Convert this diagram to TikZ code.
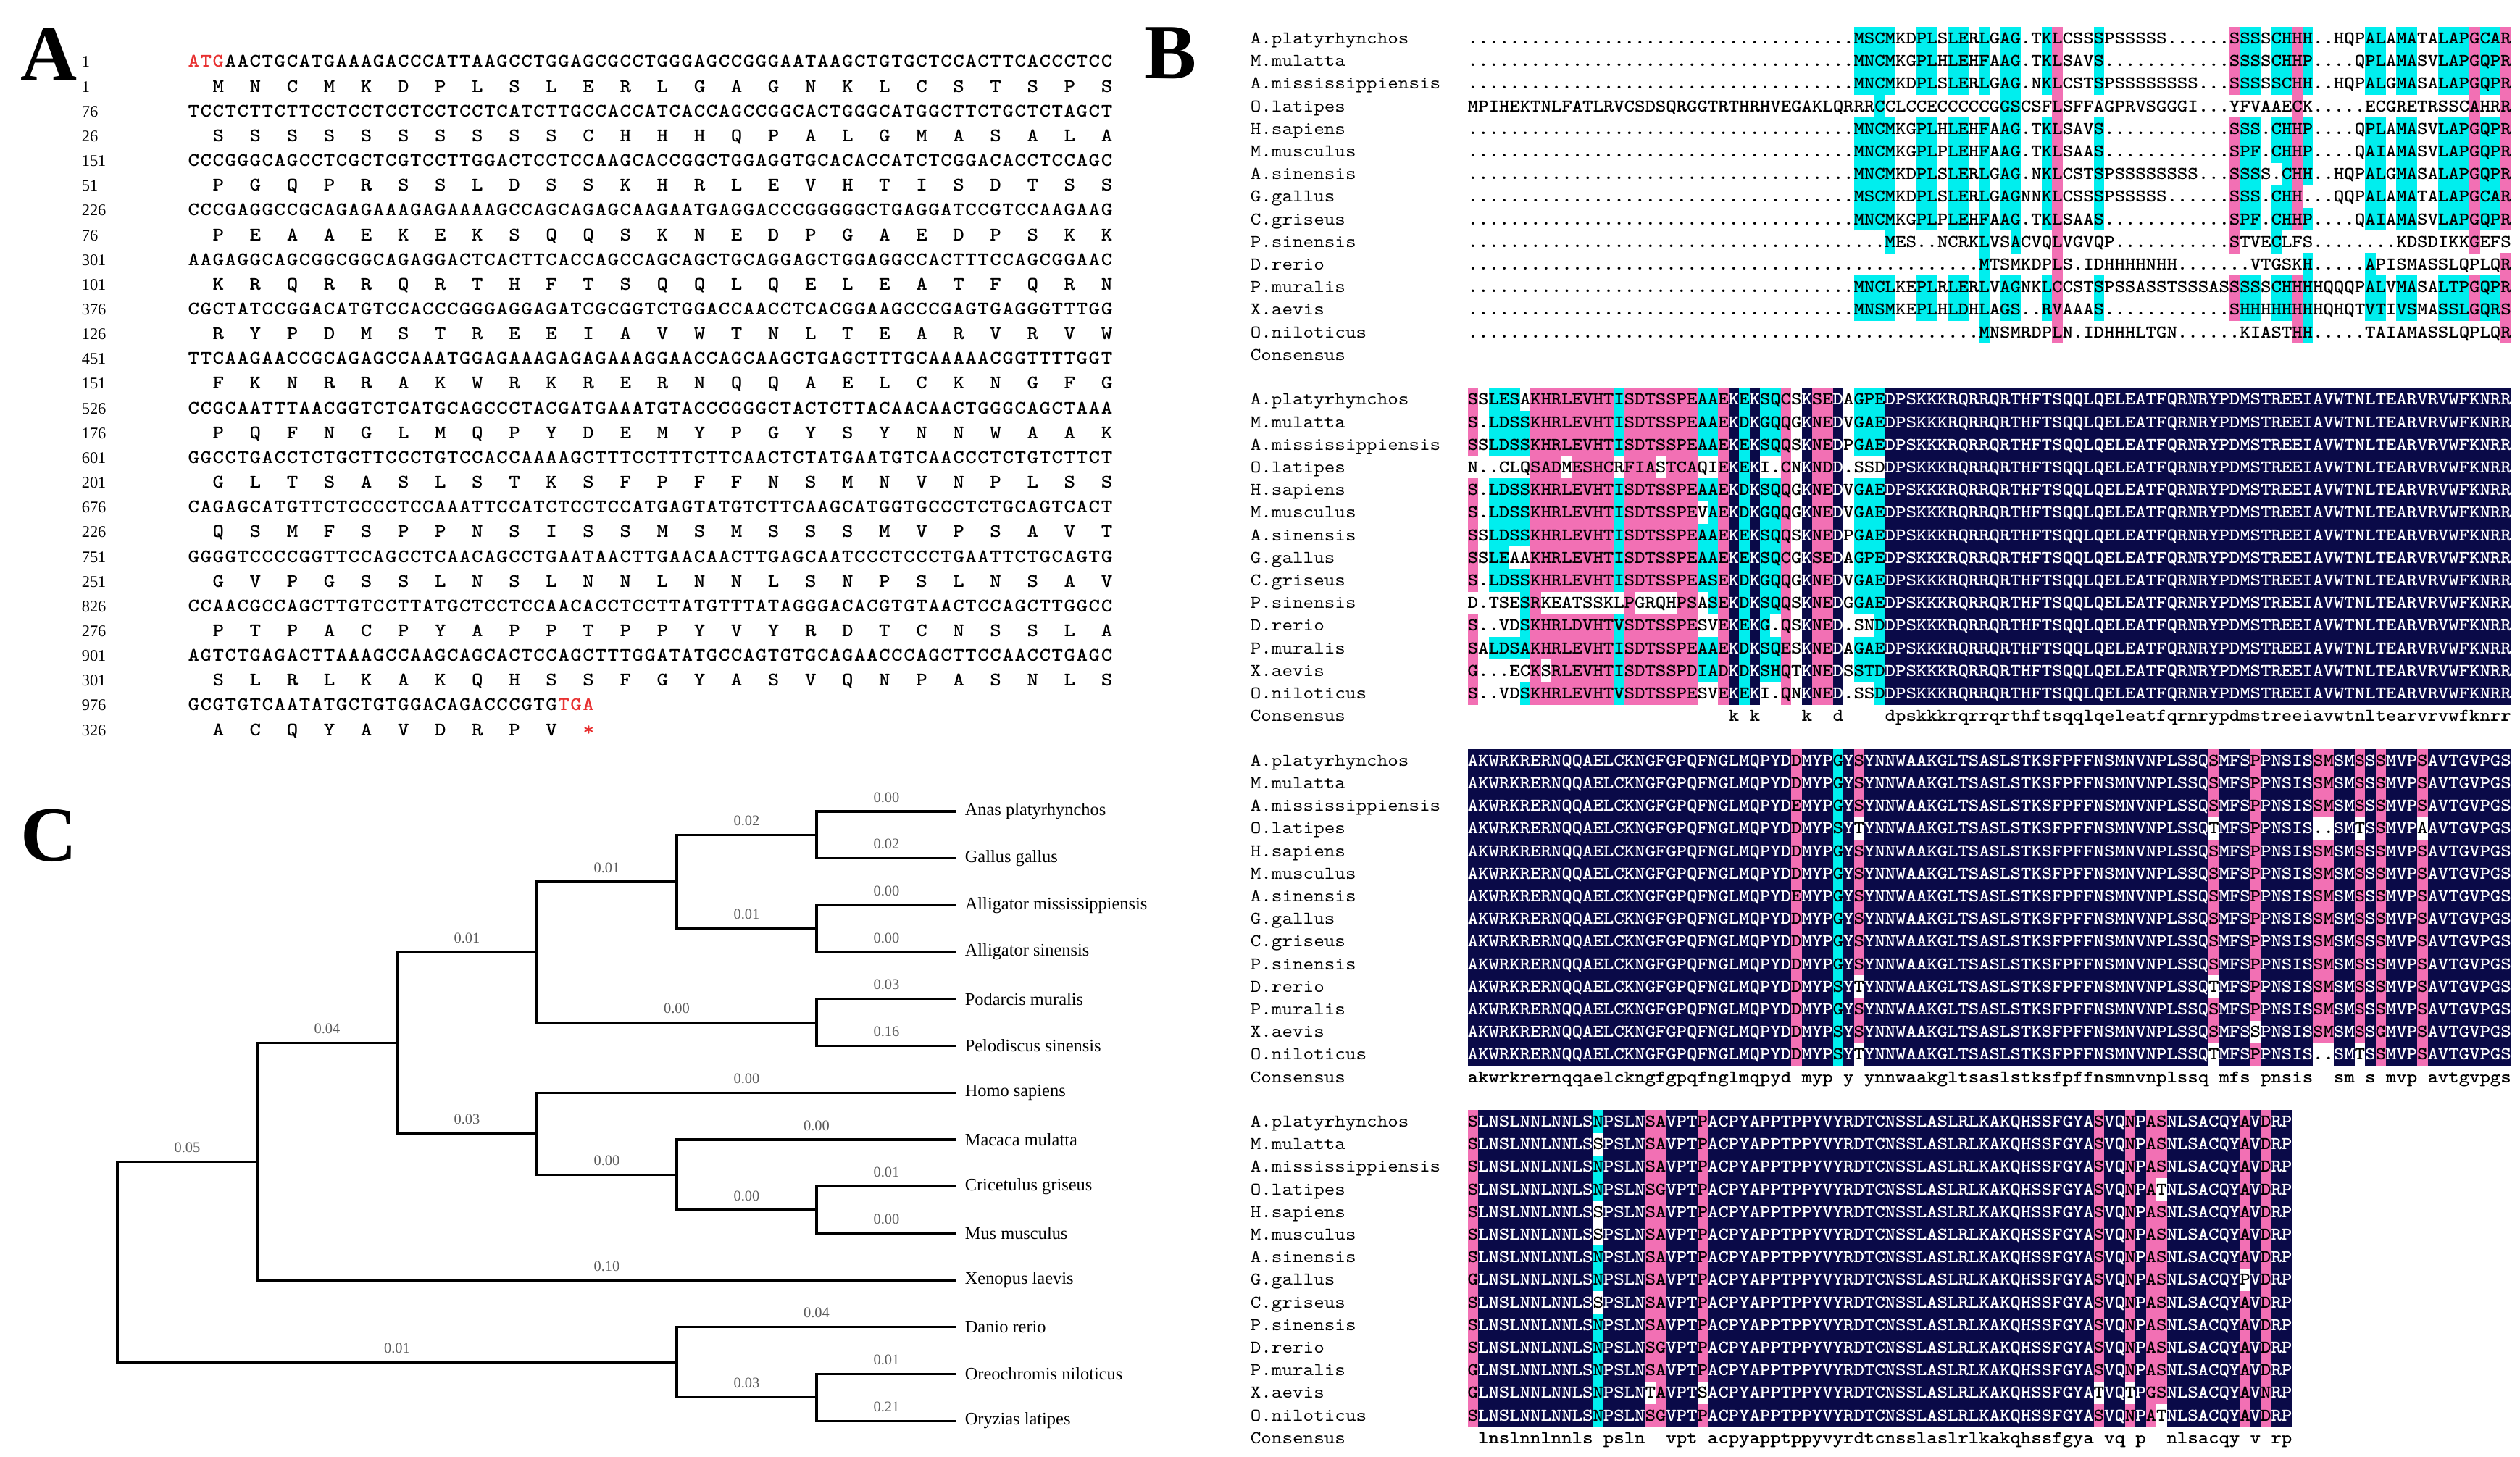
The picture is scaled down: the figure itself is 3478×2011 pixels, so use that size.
\documentclass[tikz,border=0pt]{standalone}
\usepackage{fontspec}
\setmainfont{Liberation Serif}
\newfontfamily\seqfont{lmmono10-regular.otf}[FakeStretch=1.12]
\newfontfamily\seqbold{lmmonolt10-bold.otf}[FakeStretch=1.12]

\definecolor{alnavy}{RGB}{10,10,72}
\definecolor{alpink}{RGB}{242,112,180}
\definecolor{alcyan}{RGB}{0,238,238}
\definecolor{seqred}{RGB}{232,48,48}
\definecolor{blabgray}{RGB}{90,90,90}

\newlength\cw
\newlength\chh
\newlength\chd

\ExplSyntaxOn
\cs_new:Npn \rpt #1#2 { \prg_replicate:nn {#1} {#2} }
\ExplSyntaxOff

\def\dropone#1{}
\def\keepone#1{#1}

% one residue: code (n, p, c or .) and letter
\newcommand\cellbox[2]{%
  \hbox to \cw{%
    \if.#2\else\if_#2\else
      \if n#1\rlap{\color{alnavy}\vrule width\cw height\chh depth\chd}\color{white}\fi
      \if p#1\rlap{\color{alpink}\vrule width\cw height\chh depth\chd}\fi
      \if c#1\rlap{\color{alcyan}\vrule width\cw height\chh depth\chd}\fi
    \fi\fi
    \hss\if_#2\else#2\fi\hss}}

% a row of residues: letters, codes
\newcommand\cellrow[2]{%
  \edef\rowlet{#1}\edef\rowcod{#2\rpt{100}{.}}%
  \edef\next{\noexpand\cellstep\rowlet\noexpand\relax\rowcod\noexpand\relax}\next}
\def\cellstep#1#2\relax#3#4\relax{%
  \cellbox{#3}{#1}%
  \ifx\relax#2\relax\expandafter\dropone\else\expandafter\keepone\fi
  {\cellstep#2\relax#4\relax}}

% amino acids, each over the third base of its codon
\newcommand\aarow[1]{\aastep#1\relax}
\def\aastep#1#2\relax{%
  \hbox to 3\cw{\hss\hbox to\cw{\hss#1\hss}}%
  \ifx\relax#2\relax\expandafter\dropone\else\expandafter\keepone\fi
  {\aastep#2\relax}}

% alignment pieces
\def\codeone{\rpt{37}{.}cccc..cc.cc.c.cc..cp...c\rpt{12}{.}pcc.ccpc\rpt{5}{.}cc.cc..cccpccp}
\def\codetwo{p.cccc\rpt{8}{p}c\rpt{7}{p}ccpncnccp.nppn.ccc\rpt{60}{n}}
\def\codethree{\rpt{31}{n}p\rpt{3}{n}cnp\rpt{33}{n}p\rpt{3}{n}p\rpt{5}{n}ppnnpnp\rpt{3}{n}p\rpt{8}{n}}
\def\codefour{p\rpt{11}{n}c\rpt{4}{n}ppnnnp\rpt{37}{n}pnnpnpp\rpt{7}{n}pnpnn}
\def\codefourS{p\rpt{11}{n}.\rpt{4}{n}ppnnnp\rpt{37}{n}pnnpnpp\rpt{7}{n}pnpnn}
\def\tailtwo{DPSKKKRQRRQRTHFTSQQLQELEATFQRNRYPDMSTREEIAVWTNLTEARVRVWFKNRR}
\def\headthree{AKWRKRERNQQAELCKNGFGPQFNGLMQPYD}
\def\midthree{YNNWAAKGLTSASLSTKSFPFFNSMNVNPLSSQ}
\def\midfour{ACPYAPPTPPYVYRDTCNSSLASLRLKAKQHSSFGYA}

\begin{document}
\begin{tikzpicture}
	[
	x=0.25pt, y=-0.25pt,
	panel/.style={inner sep=0pt, font=\fontsize{27}{27}\selectfont\bfseries},
	anum/.style={anchor=base west, inner sep=0pt, font=\fontsize{5.6}{6}\selectfont},
	aseq/.style={anchor=base west, inner sep=0pt, font={\seqbold\fontsize{6.6}{7}\selectfont\cw=4.2575pt\relax}},
	bseq/.style={anchor=base west, inner sep=0pt, font={\seqbold\fontsize{6.2}{7}\selectfont\cw=3.6pt\chh=5.85pt\chd=2.05pt\relax}},
	bname/.style={anchor=base west, inner sep=0pt, font={\seqfont\fontsize{6.2}{7}\selectfont}},
	branch/.style={line width=0.8pt},
	blab/.style={anchor=south, inner sep=0pt, yshift=2.75pt, text=blabgray, font=\fontsize{5.1}{6}\selectfont},
	leaf/.style={anchor=west, inner xsep=2.75pt, inner ysep=0pt, font=\fontsize{6.1}{7}\selectfont},
	]
	\useasboundingbox (0,0) rectangle (3478,2011);

	% panel A: coding sequence and translation
	\node[panel] (la) at (67,75) {A};
	\foreach \n [count=\i from 0] in {1,1,76,26,151,51,226,76,301,101,376,126,451,151,526,176,601,201,676,226,751,251,826,276,901,301,976,326}
		\node[anum] (num\i) at (112,{93+34.15*\i}) {\n};

	\node[aseq] (nt1) at (258,93) {\textcolor{seqred}{\cellrow{ATG}{}}\cellrow{AACTGCATGAAAGACCCATTAAGCCTGGAGCGCCTGGGAGCCGGGAATAAGCTGTGCTCCACTTCACCCTCC}{}};
	\node[aseq] (aa1) at (258,{93+34.15*1}) {\aarow{MNCMKDPLSLERLGAGNKLCSTSPS}};
	\node[aseq] (nt76) at (258,{93+34.15*2}) {\cellrow{TCCTCTTCTTCCTCCTCCTCCTCCTCATCTTGCCACCATCACCAGCCGGCACTGGGCATGGCTTCTGCTCTAGCT}{}};
	\node[aseq] (aa26) at (258,{93+34.15*3}) {\aarow{SSSSSSSSSSCHHHQPALGMASALA}};
	\node[aseq] (nt151) at (258,{93+34.15*4}) {\cellrow{CCCGGGCAGCCTCGCTCGTCCTTGGACTCCTCCAAGCACCGGCTGGAGGTGCACACCATCTCGGACACCTCCAGC}{}};
	\node[aseq] (aa51) at (258,{93+34.15*5}) {\aarow{PGQPRSSLDSSKHRLEVHTISDTSS}};
	\node[aseq] (nt226) at (258,{93+34.15*6}) {\cellrow{CCCGAGGCCGCAGAGAAAGAGAAAAGCCAGCAGAGCAAGAATGAGGACCCGGGGGCTGAGGATCCGTCCAAGAAG}{}};
	\node[aseq] (aa76) at (258,{93+34.15*7}) {\aarow{PEAAEKEKSQQSKNEDPGAEDPSKK}};
	\node[aseq] (nt301) at (258,{93+34.15*8}) {\cellrow{AAGAGGCAGCGGCGGCAGAGGACTCACTTCACCAGCCAGCAGCTGCAGGAGCTGGAGGCCACTTTCCAGCGGAAC}{}};
	\node[aseq] (aa101) at (258,{93+34.15*9}) {\aarow{KRQRRQRTHFTSQQLQELEATFQRN}};
	\node[aseq] (nt376) at (258,{93+34.15*10}) {\cellrow{CGCTATCCGGACATGTCCACCCGGGAGGAGATCGCGGTCTGGACCAACCTCACGGAAGCCCGAGTGAGGGTTTGG}{}};
	\node[aseq] (aa126) at (258,{93+34.15*11}) {\aarow{RYPDMSTREEIAVWTNLTEARVRVW}};
	\node[aseq] (nt451) at (258,{93+34.15*12}) {\cellrow{TTCAAGAACCGCAGAGCCAAATGGAGAAAGAGAGAAAGGAACCAGCAAGCTGAGCTTTGCAAAAACGGTTTTGGT}{}};
	\node[aseq] (aa151) at (258,{93+34.15*13}) {\aarow{FKNRRAKWRKRERNQQAELCKNGFG}};
	\node[aseq] (nt526) at (258,{93+34.15*14}) {\cellrow{CCGCAATTTAACGGTCTCATGCAGCCCTACGATGAAATGTACCCGGGCTACTCTTACAACAACTGGGCAGCTAAA}{}};
	\node[aseq] (aa176) at (258,{93+34.15*15}) {\aarow{PQFNGLMQPYDEMYPGYSYNNWAAK}};
	\node[aseq] (nt601) at (258,{93+34.15*16}) {\cellrow{GGCCTGACCTCTGCTTCCCTGTCCACCAAAAGCTTTCCTTTCTTCAACTCTATGAATGTCAACCCTCTGTCTTCT}{}};
	\node[aseq] (aa201) at (258,{93+34.15*17}) {\aarow{GLTSASLSTKSFPFFNSMNVNPLSS}};
	\node[aseq] (nt676) at (258,{93+34.15*18}) {\cellrow{CAGAGCATGTTCTCCCCTCCAAATTCCATCTCCTCCATGAGTATGTCTTCAAGCATGGTGCCCTCTGCAGTCACT}{}};
	\node[aseq] (aa226) at (258,{93+34.15*19}) {\aarow{QSMFSPPNSISSMSMSSSMVPSAVT}};
	\node[aseq] (nt751) at (258,{93+34.15*20}) {\cellrow{GGGGTCCCCGGTTCCAGCCTCAACAGCCTGAATAACTTGAACAACTTGAGCAATCCCTCCCTGAATTCTGCAGTG}{}};
	\node[aseq] (aa251) at (258,{93+34.15*21}) {\aarow{GVPGSSLNSLNNLNNLSNPSLNSAV}};
	\node[aseq] (nt826) at (258,{93+34.15*22}) {\cellrow{CCAACGCCAGCTTGTCCTTATGCTCCTCCAACACCTCCTTATGTTTATAGGGACACGTGTAACTCCAGCTTGGCC}{}};
	\node[aseq] (aa276) at (258,{93+34.15*23}) {\aarow{PTPACPYAPPTPPYVYRDTCNSSLA}};
	\node[aseq] (nt901) at (258,{93+34.15*24}) {\cellrow{AGTCTGAGACTTAAAGCCAAGCAGCACTCCAGCTTTGGATATGCCAGTGTGCAGAACCCAGCTTCCAACCTGAGC}{}};
	\node[aseq] (aa301) at (258,{93+34.15*25}) {\aarow{SLRLKAKQHSSFGYASVQNPASNLS}};
	\node[aseq] (nt976) at (258,{93+34.15*26}) {\cellrow{GCGTGTCAATATGCTGTGGACAGACCCGTG}{}\textcolor{seqred}{\cellrow{TGA}{}}};
	\node[aseq] (aa326) at (258,{93+34.15*27}) {\aarow{ACQYAVDRPV}\textcolor{seqred}{\aarow{*}}};

	% panel B: alignment in four blocks
	\node[panel] (lb) at (1615,73) {B};
	\foreach \blk in {0,...,3}
		\foreach \nm [count=\i from 0] in {A.platyrhynchos,M.mulatta,A.mississippiensis,O.latipes,H.sapiens,M.musculus,A.sinensis,G.gallus,C.griseus,P.sinensis,D.rerio,P.muralis,X.aevis,O.niloticus,Consensus}
			\node[bname] (sp\blk-\i) at (1725,{60.6+498.3*\blk+31.2*\i}) {\nm};

	% block 1
	\node[bseq] (b1r1) at (2025,60.6) {\cellrow{\rpt{37}{.}MSCMKDPLSLERLGAG.TKLCSSSPSSSSS\rpt{6}{.}SSSSCHHH..HQPALAMATALAPGCAR}{\codeone}};
	\node[bseq] (b1r2) at (2025,91.8) {\cellrow{\rpt{37}{.}MNCMKGPLHLEHFAAG.TKLSAVS\rpt{12}{.}SSSSCHHP....QPLAMASVLAPGQPR}{\codeone}};
	\node[bseq] (b1r3) at (2025,123.0) {\cellrow{\rpt{37}{.}MNCMKDPLSLERLGAG.NKLCSTSP\rpt{8}{S}...SSSSSCHH..HQPALGMASALAPGQPR}{\codeone}};
	\node[bseq] (b1r4) at (2025,154.2) {\cellrow{MPIHEKTNLFATLRVCSDSQRGGTRTHRHVEGAKLQRRRCCLCCECCCCCGGSCSFLSFFAGPRVSGGGI...YFVAAECK.....ECGRETRSSCAHRR}{\rpt{39}{.}c\rpt{11}{.}cc...p\rpt{22}{.}p\rpt{16}{.}p..p}};
	\node[bseq] (b1r5) at (2025,185.4) {\cellrow{\rpt{37}{.}MNCMKGPLHLEHFAAG.TKLSAVS\rpt{12}{.}SSS.CHHP....QPLAMASVLAPGQPR}{\codeone}};
	\node[bseq] (b1r6) at (2025,216.6) {\cellrow{\rpt{37}{.}MNCMKGPLPLEHFAAG.TKLSAAS\rpt{12}{.}SPF.CHHP....QAIAMASVLAPGQPR}{\codeone}};
	\node[bseq] (b1r7) at (2025,247.8) {\cellrow{\rpt{37}{.}MNCMKDPLSLERLGAG.NKLCSTSP\rpt{8}{S}...SSSS.CHH..HQPALGMASALAPGQPR}{\codeone}};
	\node[bseq] (b1r8) at (2025,279.0) {\cellrow{\rpt{37}{.}MSCMKDPLSLERLGAGNNKLCSSSPSSSSS\rpt{6}{.}SSS.CHH...QQPALAMATALAPGCAR}{\codeone}};
	\node[bseq] (b1r9) at (2025,310.2) {\cellrow{\rpt{37}{.}MNCMKGPLPLEHFAAG.TKLSAAS\rpt{12}{.}SPF.CHHP....QAIAMASVLAPGQPR}{\codeone}};
	\node[bseq] (b1r10) at (2025,341.4) {\cellrow{\rpt{40}{.}MES..NCRKLVSACVQLVGVQP\rpt{11}{.}STVECLFS\rpt{8}{.}KDSDIKKGEFS}{\rpt{40}{.}c\rpt{8}{.}c..c...p\rpt{16}{.}p...c\rpt{18}{.}p...}};
	\node[bseq] (b1r11) at (2025,372.6) {\cellrow{\rpt{49}{.}MTSMKDPLS.IDHHHHNHH\rpt{7}{.}VTGSKH\rpt{5}{.}APISMASSLQPLQR}{\rpt{49}{.}c\rpt{6}{.}p\rpt{23}{.}c\rpt{5}{.}c\rpt{12}{.}p}};
	\node[bseq] (b1r12) at (2025,403.8) {\cellrow{\rpt{37}{.}MNCLKEPLRLERLVAGNKLCCSTSPSSASSTSSSASSSSSCHHHHQQQPALVMASALTPGQPR}{\codeone}};
	\node[bseq] (b1r13) at (2025,435.0) {\cellrow{\rpt{37}{.}MNSMKEPLHLDHLAGS..RVAAAS\rpt{12}{.}SHHHHHHHHQHQTVTIVSMASSLGQRS}{\codeone}};
	\node[bseq] (b1r14) at (2025,466.2) {\cellrow{\rpt{49}{.}MNSMRDPLN.IDHHHLTGN\rpt{6}{.}KIASTHH\rpt{5}{.}TAIAMASSLQPLQR}{\rpt{49}{.}c\rpt{6}{.}p\rpt{22}{.}pc\rpt{18}{.}p}};

	% block 2
	\begin{scope}[shift={(0,498.3)}]
	\node[bseq] (b2r1) at (2025,60.6) {\cellrow{SSLESAKHRLEVHTISDTSSPEAAEKEKSQCSKSEDAGPE\tailtwo}{p.ccc.\rpt{8}{p}c\rpt{7}{p}ccpncnccp.nppn.ccc\rpt{60}{n}}};
	\node[bseq] (b2r2) at (2025,91.8) {\cellrow{S.LDSSKHRLEVHTISDTSSPEAAEKDKGQQGKNEDVGAE\tailtwo}{\codetwo}};
	\node[bseq] (b2r3) at (2025,123.0) {\cellrow{SSLDSSKHRLEVHTISDTSSPEAAEKEKSQQSKNEDPGAE\tailtwo}{\codetwo}};
	\node[bseq] (b2r4) at (2025,154.2) {\cellrow{N..CLQSADMESHCRFIASTCAQIEKEKI.CNKNDD.SSD\tailtwo}{\rpt{6}{.}ppp.pppp.ppp.ppp..pncn..p.nppn....\rpt{60}{n}}};
	\node[bseq] (b2r5) at (2025,185.4) {\cellrow{S.LDSSKHRLEVHTISDTSSPEAAEKDKSQQGKNEDVGAE\tailtwo}{\codetwo}};
	\node[bseq] (b2r6) at (2025,216.6) {\cellrow{S.LDSSKHRLEVHTISDTSSPEVAEKDKGQQGKNEDVGAE\tailtwo}{p.cccc\rpt{8}{p}c\rpt{7}{p}.cpncnccp.nppn.ccc\rpt{60}{n}}};
	\node[bseq] (b2r7) at (2025,247.8) {\cellrow{SSLDSSKHRLEVHTISDTSSPEAAEKEKSQQSKNEDPGAE\tailtwo}{\codetwo}};
	\node[bseq] (b2r8) at (2025,279.0) {\cellrow{SSLEAAKHRLEVHTISDTSSPEAAEKEKSQCGKSEDAGPE\tailtwo}{p.cc..\rpt{8}{p}c\rpt{7}{p}ccpncnccp.nppn.ccc\rpt{60}{n}}};
	\node[bseq] (b2r9) at (2025,310.2) {\cellrow{S.LDSSKHRLEVHTISDTSSPEASEKDKGQQGKNEDVGAE\tailtwo}{\codetwo}};
	\node[bseq] (b2r10) at (2025,341.4) {\cellrow{D.TSESRKEATSSKLPGRQHPSASEKDKSQQSKNEDGGAE\tailtwo}{\rpt{5}{.}cp\rpt{8}{.}p\rpt{4}{.}pp.cpncnccp.nppn.ccc\rpt{60}{n}}};
	\node[bseq] (b2r11) at (2025,372.6) {\cellrow{S..VDSKHRLDVHTVSDTSSPESVEKEKG.QSKNED.SND\tailtwo}{p....c\rpt{8}{p}c\rpt{7}{p}..pncnc.p.nppn...c\rpt{60}{n}}};
	\node[bseq] (b2r12) at (2025,403.8) {\cellrow{SALDSAKHRLEVHTISDTSSPEAAEKDKSQESKNEDAGAE\tailtwo}{\codetwo}};
	\node[bseq] (b2r13) at (2025,435.0) {\cellrow{G...ECKSRLEVHTISDTSSPDIADKDKSHQTKNEDSSTD\tailtwo}{p\rpt{5}{.}p.\rpt{6}{p}c\rpt{7}{p}ccpncnccp.nppn.ccc\rpt{60}{n}}};
	\node[bseq] (b2r14) at (2025,466.2) {\cellrow{S..VDSKHRLEVHTVSDTSSPESVEKEKI.QNKNED.SSD\tailtwo}{p....c\rpt{8}{p}c\rpt{7}{p}..pncn..p.nppn...c\rpt{60}{n}}};
	\node[bseq] (b2con) at (2025,497.4) {\cellrow{\rpt{25}{_}k_k\rpt{4}{_}k__d\rpt{4}{_}dpskkkrqrrqrthftsqqlqeleatfqrnrypdmstreeiavwtnltearvrvwfknrr}{}};
	\end{scope}

	% block 3
	\begin{scope}[shift={(0,996.6)}]
	\node[bseq] (b3r1) at (2025,60.6) {\cellrow{\headthree DMYPGYS\midthree SMFSPPNSISSMSMSSSMVPSAVTGVPGS}{\codethree}};
	\node[bseq] (b3r2) at (2025,91.8) {\cellrow{\headthree DMYPGYS\midthree SMFSPPNSISSMSMSSSMVPSAVTGVPGS}{\codethree}};
	\node[bseq] (b3r3) at (2025,123.0) {\cellrow{\headthree EMYPGYS\midthree SMFSPPNSISSMSMSSSMVPSAVTGVPGS}{\codethree}};
	\node[bseq] (b3r4) at (2025,154.2) {\cellrow{\headthree DMYPSYT\midthree TMFSPPNSIS..SMTSSMVPAAVTGVPGS}{\rpt{31}{n}p\rpt{3}{n}cn.\rpt{33}{n}.\rpt{3}{n}p\rpt{5}{n}..nn.np\rpt{3}{n}.\rpt{8}{n}}};
	\node[bseq] (b3r5) at (2025,185.4) {\cellrow{\headthree DMYPGYS\midthree SMFSPPNSISSMSMSSSMVPSAVTGVPGS}{\codethree}};
	\node[bseq] (b3r6) at (2025,216.6) {\cellrow{\headthree DMYPGYS\midthree SMFSPPNSISSMSMSSSMVPSAVTGVPGS}{\codethree}};
	\node[bseq] (b3r7) at (2025,247.8) {\cellrow{\headthree EMYPGYS\midthree SMFSPPNSISSMSMSSSMVPSAVTGVPGS}{\codethree}};
	\node[bseq] (b3r8) at (2025,279.0) {\cellrow{\headthree DMYPGYS\midthree SMFSPPNSISSMSMSSSMVPSAVTGVPGS}{\codethree}};
	\node[bseq] (b3r9) at (2025,310.2) {\cellrow{\headthree DMYPGYS\midthree SMFSPPNSISSMSMSSSMVPSAVTGVPGS}{\codethree}};
	\node[bseq] (b3r10) at (2025,341.4) {\cellrow{\headthree DMYPGYS\midthree SMFSPPNSISSMSMSSSMVPSAVTGVPGS}{\codethree}};
	\node[bseq] (b3r11) at (2025,372.6) {\cellrow{\headthree DMYPSYT\midthree TMFSPPNSISSMSMSSSMVPSAVTGVPGS}{\rpt{31}{n}p\rpt{3}{n}cn.\rpt{33}{n}.\rpt{3}{n}p\rpt{5}{n}ppnnpnp\rpt{3}{n}p\rpt{8}{n}}};
	\node[bseq] (b3r12) at (2025,403.8) {\cellrow{\headthree DMYPGYS\midthree SMFSPPNSISSMSMSSSMVPSAVTGVPGS}{\codethree}};
	\node[bseq] (b3r13) at (2025,435.0) {\cellrow{\headthree DMYPSYS\midthree SMFSSPNSISSMSMSSGMVPSAVTGVPGS}{\rpt{31}{n}p\rpt{3}{n}cnp\rpt{33}{n}p\rpt{3}{n}.\rpt{5}{n}ppnnpnp\rpt{3}{n}p\rpt{8}{n}}};
	\node[bseq] (b3r14) at (2025,466.2) {\cellrow{\headthree DMYPSYT\midthree TMFSPPNSIS..SMTSSMVPSAVTGVPGS}{\rpt{31}{n}p\rpt{3}{n}cn.\rpt{33}{n}.\rpt{3}{n}p\rpt{5}{n}..nn.np\rpt{3}{n}p\rpt{8}{n}}};
	\node[bseq] (b3con) at (2025,497.4) {\cellrow{akwrkrernqqaelckngfgpqfnglmqpyd_myp_y_ynnwaakgltsaslstksfpffnsmnvnplssq_mfs_pnsis__sm_s_mvp_avtgvpgs}{}};
	\end{scope}

	% block 4
	\begin{scope}[shift={(0,1494.9)}]
	\node[bseq] (b4r1) at (2025,60.6) {\cellrow{SLNSLNNLNNLSNPSLNSAVPTP\midfour SVQNPASNLSACQYAVDRP}{\codefour}};
	\node[bseq] (b4r2) at (2025,91.8) {\cellrow{SLNSLNNLNNLSSPSLNSAVPTP\midfour SVQNPASNLSACQYAVDRP}{\codefourS}};
	\node[bseq] (b4r3) at (2025,123.0) {\cellrow{SLNSLNNLNNLSNPSLNSAVPTP\midfour SVQNPASNLSACQYAVDRP}{\codefour}};
	\node[bseq] (b4r4) at (2025,154.2) {\cellrow{SLNSLNNLNNLSNPSLNSGVPTP\midfour SVQNPATNLSACQYAVDRP}{p\rpt{11}{n}c\rpt{4}{n}ppnnnp\rpt{37}{n}pnnpnp.\rpt{7}{n}pnpnn}};
	\node[bseq] (b4r5) at (2025,185.4) {\cellrow{SLNSLNNLNNLSSPSLNSAVPTP\midfour SVQNPASNLSACQYAVDRP}{\codefourS}};
	\node[bseq] (b4r6) at (2025,216.6) {\cellrow{SLNSLNNLNNLSSPSLNSAVPTP\midfour SVQNPASNLSACQYAVDRP}{\codefourS}};
	\node[bseq] (b4r7) at (2025,247.8) {\cellrow{SLNSLNNLNNLSNPSLNSAVPTP\midfour SVQNPASNLSACQYAVDRP}{\codefour}};
	\node[bseq] (b4r8) at (2025,279.0) {\cellrow{GLNSLNNLNNLSNPSLNSAVPTP\midfour SVQNPASNLSACQYPVDRP}{p\rpt{11}{n}c\rpt{4}{n}ppnnnp\rpt{37}{n}pnnpnpp\rpt{7}{n}.npnn}};
	\node[bseq] (b4r9) at (2025,310.2) {\cellrow{SLNSLNNLNNLSSPSLNSAVPTP\midfour SVQNPASNLSACQYAVDRP}{\codefourS}};
	\node[bseq] (b4r10) at (2025,341.4) {\cellrow{SLNSLNNLNNLSNPSLNSAVPTP\midfour SVQNPASNLSACQYAVDRP}{\codefour}};
	\node[bseq] (b4r11) at (2025,372.6) {\cellrow{SLNSLNNLNNLSNPSLNSGVPTP\midfour SVQNPASNLSACQYAVDRP}{\codefour}};
	\node[bseq] (b4r12) at (2025,403.8) {\cellrow{GLNSLNNLNNLSNPSLNSAVPTP\midfour SVQNPASNLSACQYAVDRP}{\codefour}};
	\node[bseq] (b4r13) at (2025,435.0) {\cellrow{GLNSLNNLNNLSNPSLNTAVPTS\midfour TVQTPGSNLSACQYAVNRP}{p\rpt{11}{n}c\rpt{4}{n}.pnnn.\rpt{37}{n}.nn.npp\rpt{7}{n}pnpnn}};
	\node[bseq] (b4r14) at (2025,466.2) {\cellrow{SLNSLNNLNNLSNPSLNSGVPTP\midfour SVQNPATNLSACQYAVDRP}{p\rpt{11}{n}c\rpt{4}{n}ppnnnp\rpt{37}{n}pnnpnp.\rpt{7}{n}pnpnn}};
	\node[bseq] (b4con) at (2025,497.4) {\cellrow{_lnslnnlnnls_psln__vpt_acpyapptppyvyrdtcnsslaslrlkakqhssfgya_vq_p__nlsacqy_v_rp}{}};
	\end{scope}

	% panel C: tree
	\node[panel] (lc) at (67,1153) {C};
	\foreach \sp [count=\j from 0] in {Anas platyrhynchos,Gallus gallus,Alligator mississippiensis,Alligator sinensis,Podarcis muralis,Pelodiscus sinensis,Homo sapiens,Macaca mulatta,Cricetulus griseus,Mus musculus,Xenopus laevis,Danio rerio,Oreochromis niloticus,Oryzias latipes}
		\node[leaf] (leaf\j) at (1320,{1120+64.7*\j}) {\sp};

	% inner nodes
	\coordinate (nAG) at (1127,1152.35);
	\coordinate (nAl) at (1127,1281.75);
	\coordinate (nBA) at (934,1217.05);
	\coordinate (nPP) at (1127,1411.15);
	\coordinate (nRep) at (741,1314.1);
	\coordinate (nCM) at (1127,1669.95);
	\coordinate (nMac) at (934,1621.43);
	\coordinate (nMam) at (741,1564.8);
	\coordinate (nAmn) at (548,1439.45);
	\coordinate (nTet) at (355,1603.2);
	\coordinate (nOn) at (1127,1928.75);
	\coordinate (nFish) at (934,1880.2);
	\coordinate (root) at (162,1741.7);

	\foreach \from/\to/\w in {nAG/leaf0.west/0.00, nAG/leaf1.west/0.02, nAl/leaf2.west/0.00, nAl/leaf3.west/0.00,
		nBA/nAG/0.02, nBA/nAl/0.01, nPP/leaf4.west/0.03, nPP/leaf5.west/0.16, nRep/nBA/0.01, nRep/nPP/0.00,
		nCM/leaf8.west/0.01, nCM/leaf9.west/0.00, nMac/leaf7.west/0.00, nMac/nCM/0.00, nMam/leaf6.west/0.00, nMam/nMac/0.00,
		nAmn/nRep/0.01, nAmn/nMam/0.03, nTet/nAmn/0.04, nTet/leaf10.west/0.10,
		nOn/leaf12.west/0.01, nOn/leaf13.west/0.21, nFish/leaf11.west/0.04, nFish/nOn/0.03,
		root/nTet/0.05, root/nFish/0.01}
		\draw[branch] (\from) |- node[blab, pos=0.75] {\w} (\to);

\end{tikzpicture}
\end{document}
